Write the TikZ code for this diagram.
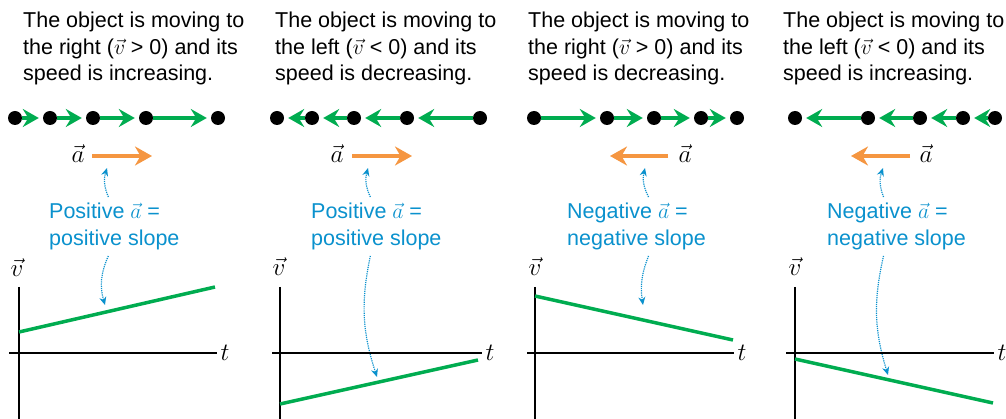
\RequirePackage{fix-cm}
\documentclass[tikz,border=0pt]{standalone}
\usepackage{fontspec}
\setmainfont{Liberation Sans}
\definecolor{velgreen}{RGB}{0,172,80}
\definecolor{accorange}{RGB}{245,150,65}
\definecolor{noteblue}{RGB}{10,145,205}
\usetikzlibrary{arrows.meta}

\begin{document}
\begin{tikzpicture}[x=1pt, y=-1pt,
    hdr/.style={anchor=north west, inner sep=0pt, align=left, font=\fontsize{21.5}{26.5}\selectfont},
    note/.style={hdr, inner ysep=6pt, text=noteblue},
    sym/.style={inner sep=0pt, font=\fontsize{25}{28}\selectfont},
    dot/.style={circle, fill=black, inner sep=0pt, minimum size=14pt},
    vel/.style={-{Stealth[length=16pt, width=18pt, inset=5.5pt]}, line width=3.5pt, velgreen, shorten >=4pt},
    acc/.style={-{Stealth[length=17pt, width=19pt, inset=5.5pt]}, line width=3.5pt, accorange},
    hint/.style={-{Stealth[length=8pt, width=7pt]}, noteblue, densely dotted, line width=1.2pt},
    axis/.style={line width=1.3pt},
    graph/.style={line width=3.5pt, velgreen}
  ]
  \useasboundingbox (0,0) rectangle (1006,419);

  % headers
  \node[hdr] (h1) at (23,12)  {The object is moving to\\the right (\(\vec{v}\) > 0) and its\\speed is increasing.};
  \node[hdr] (h2) at (275,12) {The object is moving to\\the left (\(\vec{v}\) < 0) and its\\speed is decreasing.};
  \node[hdr] (h3) at (528,12) {The object is moving to\\the right (\(\vec{v}\) > 0) and its\\speed is decreasing.};
  \node[hdr] (h4) at (783,12) {The object is moving to\\the left (\(\vec{v}\) < 0) and its\\speed is increasing.};

  % positions of the object
  \node[dot] (d11) at (15,118) {};  \node[dot] (d12) at (50,118) {};  \node[dot] (d13) at (93,118) {};
  \node[dot] (d14) at (146,118) {}; \node[dot] (d15) at (218,118) {};
  \node[dot] (d21) at (277,118) {}; \node[dot] (d22) at (312,118) {}; \node[dot] (d23) at (354,118) {};
  \node[dot] (d24) at (407,118) {}; \node[dot] (d25) at (480,118) {};
  \node[dot] (d31) at (534,118) {}; \node[dot] (d32) at (607,118) {}; \node[dot] (d33) at (654,118) {};
  \node[dot] (d34) at (701,118) {}; \node[dot] (d35) at (737,118) {};
  \node[dot] (d41) at (795,118) {}; \node[dot] (d42) at (868,118) {}; \node[dot] (d43) at (920,118) {};
  \node[dot] (d44) at (963,118) {}; \node[dot] (d45) at (995,118) {};

  \draw[vel] (d11) -- (d12); \draw[vel] (d12) -- (d13); \draw[vel] (d13) -- (d14); \draw[vel] (d14) -- (d15);
  \draw[vel] (d25) -- (d24); \draw[vel] (d24) -- (d23); \draw[vel] (d23) -- (d22); \draw[vel] (d22) -- (d21);
  \draw[vel] (d31) -- (d32); \draw[vel] (d32) -- (d33); \draw[vel] (d33) -- (d34); \draw[vel] (d34) -- (d35);
  \draw[vel] (d45) -- (d44); \draw[vel] (d44) -- (d43); \draw[vel] (d43) -- (d42); \draw[vel] (d42) -- (d41);

  % acceleration
  \node[sym] (al1) at (78,154)  {$\vec{a}$};
  \node[sym] (al2) at (337,154) {$\vec{a}$};
  \node[sym] (al3) at (685,154) {$\vec{a}$};
  \node[sym] (al4) at (926,154) {$\vec{a}$};
  \coordinate (a1s) at (92,156);  \coordinate (a1e) at (152,156);
  \coordinate (a2s) at (352,156); \coordinate (a2e) at (412,156);
  \coordinate (a3s) at (668,156); \coordinate (a3e) at (610,156);
  \coordinate (a4s) at (910,156); \coordinate (a4e) at (851,156);
  \draw[acc] (a1s) -- (a1e);
  \draw[acc] (a2s) -- (a2e);
  \draw[acc] (a3s) -- (a3e);
  \draw[acc] (a4s) -- (a4e);

  % notes
  \node[note] (n1) at (49,197)  {Positive \(\vec{a}\) =\\positive slope};
  \node[note] (n2) at (311,197) {Positive \(\vec{a}\) =\\positive slope};
  \node[note] (n3) at (567,197) {Negative \(\vec{a}\) =\\negative slope};
  \node[note] (n4) at (827,197) {Negative \(\vec{a}\) =\\negative slope};
  \coordinate (t1) at (107,168); \coordinate (b1) at (105,305);
  \coordinate (t2) at (368,168); \coordinate (b2) at (377,377);
  \coordinate (t3) at (645,168); \coordinate (b3) at (643,305);
  \coordinate (t4) at (883,168); \coordinate (b4) at (888,375);
  \draw[hint] ([xshift=-6pt]n1.north) to[bend left=20] (t1);
  \draw[hint] ([xshift=-6pt]n2.north) to[bend left=20] (t2);
  \draw[hint] ([xshift=12pt]n3.north) to[bend left=20] (t3);
  \draw[hint] ([xshift=-13pt]n4.north) to[bend left=20] (t4);
  \draw[hint] ([xshift=-6pt]n1.south) to[bend right=20] (b1);
  \draw[hint] ([xshift=-6pt]n2.south) to[bend right=15] (b2);
  \draw[hint] ([xshift=12pt]n3.south) to[bend right=15] (b3);
  \draw[hint] ([xshift=-13pt]n4.south) to[bend right=15] (b4);

  % graphs
  \draw[axis] (19,287) -- (19,419);   \draw[axis] (9,353) -- (217,353) node[sym, right=3pt] (x1) {$t$};
  \draw[axis] (280,287) -- (280,419); \draw[axis] (272,353) -- (482,353) node[sym, right=3pt] (x2) {$t$};
  \draw[axis] (535,287) -- (535,419); \draw[axis] (527,353) -- (734,353) node[sym, right=3pt] (x3) {$t$};
  \draw[axis] (795,287) -- (795,419); \draw[axis] (786,353) -- (994,353) node[sym, right=3pt] (x4) {$t$};
  \node[sym] (v1) at (17,268)  {$\vec{v}$};
  \node[sym] (v2) at (279,267) {$\vec{v}$};
  \node[sym] (v3) at (535,267) {$\vec{v}$};
  \node[sym] (v4) at (795,267) {$\vec{v}$};
  \draw[graph] (19,332) -- (215,287);
  \draw[graph] (280,404) -- (478,360);
  \draw[graph] (535,296) -- (733,340);
  \draw[graph] (795,359) -- (993,403);
\end{tikzpicture}
\end{document}
